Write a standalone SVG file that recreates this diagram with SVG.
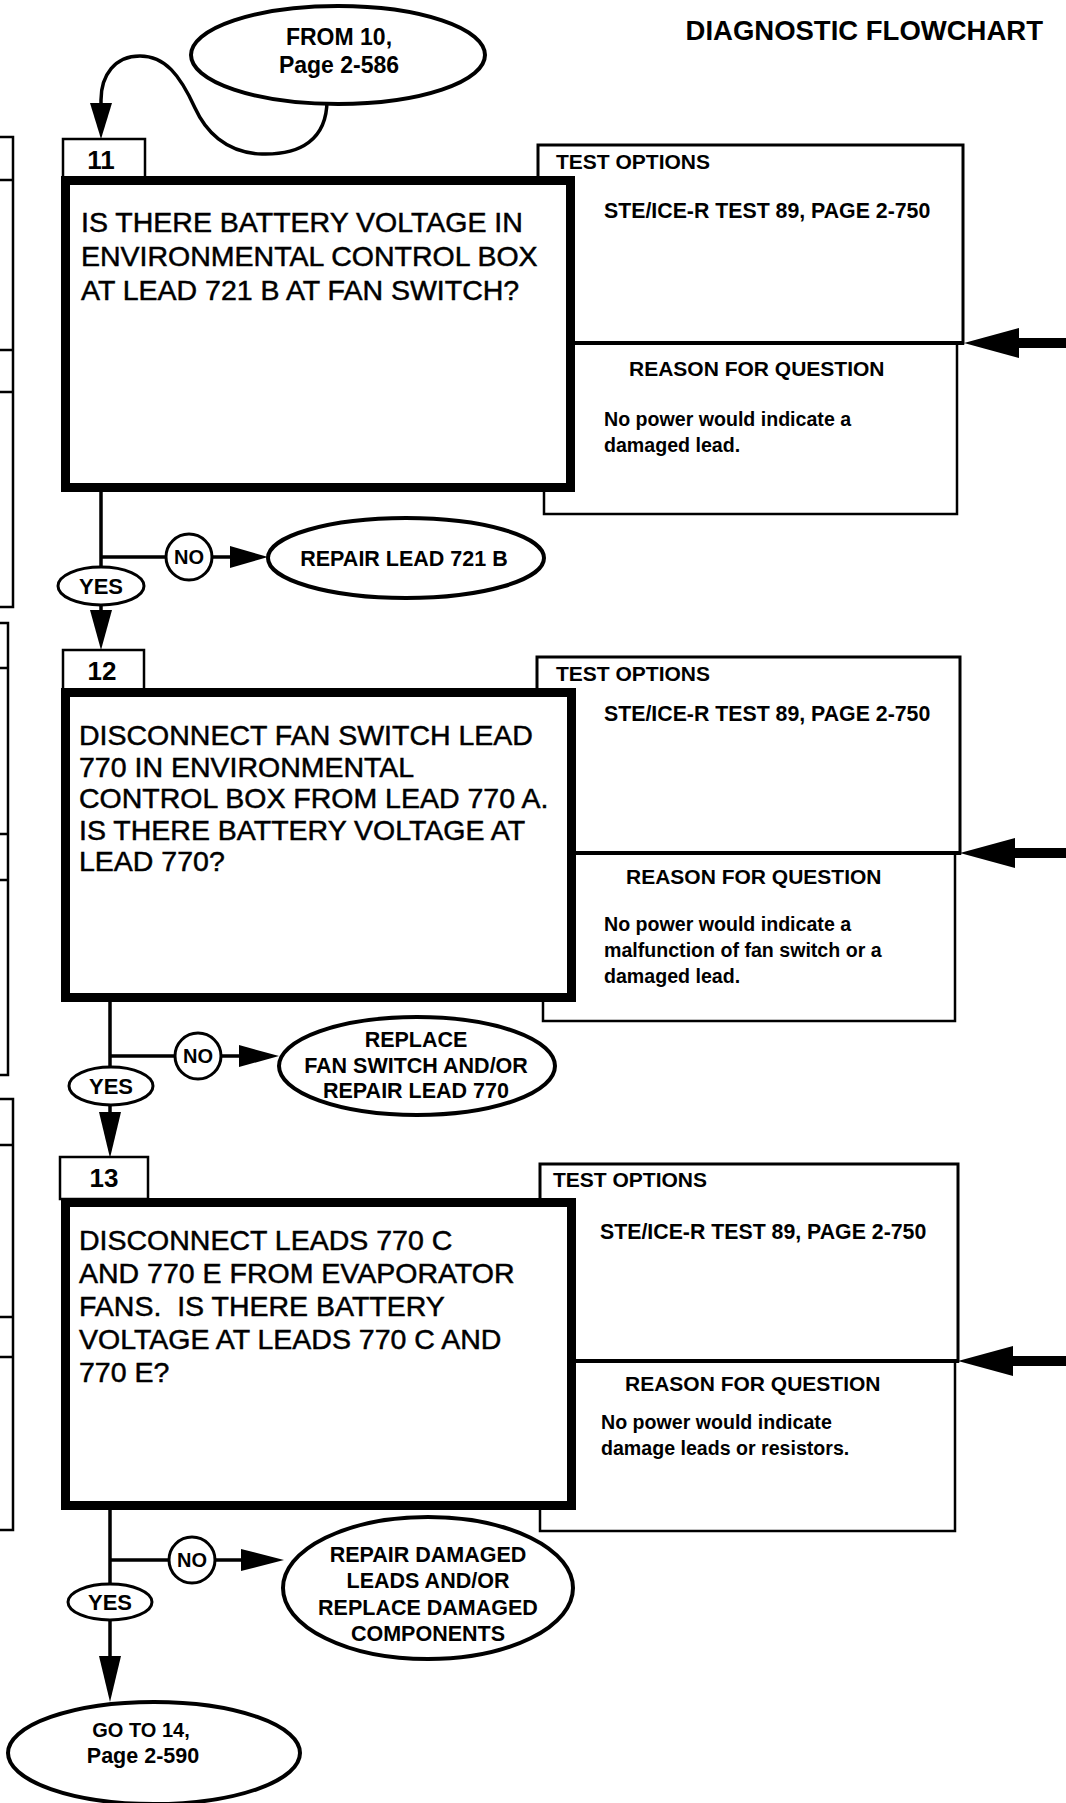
<svg xmlns="http://www.w3.org/2000/svg" width="1066" height="1803" viewBox="0 0 1066 1803">
<style>
text{font-family:"Liberation Sans",Arial,sans-serif;fill:#000}
.q{font-size:28.5px;stroke:#000;stroke-width:0.5}
.hdr{font-size:21px;font-weight:bold}
.ste{font-size:21.3px;font-weight:bold}
.rsn{font-size:19.6px;font-weight:bold}
.oval{font-size:21.5px;font-weight:bold}
.from{font-size:23px;font-weight:bold}
.lbl{font-size:20px;font-weight:bold}
.yes{font-size:22px;font-weight:bold}
.tabt{font-size:26px;font-weight:bold}
.main{fill:#fff;stroke:#000;stroke-width:9}
.tab{fill:#fff;stroke:#000;stroke-width:2.5}
.tbox{fill:#fff;stroke:#000;stroke-width:3}
.rbox{fill:#fff;stroke:#000;stroke-width:2.5}
.ell{fill:#fff;stroke:#000;stroke-width:4}
.sm{fill:#fff;stroke:#000;stroke-width:3}
.ln{fill:none;stroke:#000;stroke-width:3.5}
.thin{fill:none;stroke:#000;stroke-width:2.5}
.ah{fill:#000}
.big{fill:none;stroke:#000;stroke-width:10}
.div{stroke:#000;stroke-width:4}
</style>

<text x="1043" y="40" text-anchor="end" style="font-size:27.5px;font-weight:bold">DIAGNOSTIC FLOWCHART</text>

<g id="left-edge">
<path class="thin" d="M0 137 H13 V607 H0 M0 180 H13 M0 350 H13 M0 392 H13"/>
<path class="thin" d="M0 623 H8 V1075 H0 M0 668 H8 M0 834 H8 M0 880 H8"/>
<path class="thin" d="M0 1099 H13 V1530 H0 M0 1145 H13 M0 1317 H13 M0 1357 H13"/>
</g>

<g id="connectors">
<path class="ln" d="M327 100 C327 140 300 155 262 154 C225 153 205 130 195 108 C180 75 165 56 140 56 C115 56 101 75 101 100 L101 110"/>
<polygon class="ah" points="90,103 112,103 101,139"/>
<path class="ln" d="M101 492 V567 M101 557 H166 M212 557 H236"/>
<polygon class="ah" points="230,546 268,557 230,568"/>
<line class="ln" x1="101" y1="605" x2="101" y2="615"/>
<polygon class="ah" points="90,610 112,610 101,650"/>
<path class="ln" d="M110 1002 V1067 M110 1056 H175 M221 1056 H245"/>
<polygon class="ah" points="239,1045 279,1056 239,1067"/>
<line class="ln" x1="110" y1="1105" x2="110" y2="1115"/>
<polygon class="ah" points="99,1112 121,1112 110,1158"/>
<path class="ln" d="M110 1510 V1585 M110 1560 H169 M215 1560 H245"/>
<polygon class="ah" points="241,1549 284,1560 241,1571"/>
<line class="ln" x1="110" y1="1620" x2="110" y2="1660"/>
<polygon class="ah" points="99,1656 121,1656 110,1702"/>
<line class="big" x1="1010" y1="343" x2="1066" y2="343"/>
<polygon class="ah" points="964,343 1019,328 1019,358"/>
<line class="big" x1="1008" y1="853" x2="1066" y2="853"/>
<polygon class="ah" points="960,853 1015,838 1015,868"/>
<line class="big" x1="1006" y1="1361" x2="1066" y2="1361"/>
<polygon class="ah" points="958,1361 1013,1346 1013,1376"/>
</g>

<g id="from10">
<ellipse class="ell" cx="338" cy="55" rx="147" ry="49"/>
<text class="from" x="339" y="45" text-anchor="middle">FROM 10,</text>
<text class="from" x="339" y="73" text-anchor="middle">Page 2-586</text>
</g>

<g id="step11-options">
<rect class="tbox" x="538" y="145" width="425" height="198"/>
<rect class="rbox" x="544" y="343" width="413" height="171"/>
<line class="div" x1="570" y1="343" x2="964" y2="343"/>
<text class="hdr" x="556" y="169">TEST OPTIONS</text>
<text class="ste" x="604" y="218">STE/ICE-R TEST 89, PAGE 2-750</text>
<text class="hdr" x="629" y="376">REASON FOR QUESTION</text>
<text class="rsn" x="604" y="426">No power would indicate a</text>
<text class="rsn" x="604" y="452">damaged lead.</text>
</g>
<g id="step11">
<rect class="tab" x="63" y="139" width="82" height="42"/>
<text class="tabt" x="101" y="169" text-anchor="middle">11</text>
<rect class="main" x="65.5" y="180.5" width="505" height="307"/>
<text class="q" x="81" y="232">IS THERE BATTERY VOLTAGE IN</text>
<text class="q" x="81" y="266">ENVIRONMENTAL CONTROL BOX</text>
<text class="q" x="81" y="300">AT LEAD 721 B AT FAN SWITCH?</text>
</g>
<g id="no11">
<circle class="sm" cx="189" cy="557" r="23"/>
<text class="lbl" x="189" y="564" text-anchor="middle">NO</text>
</g>
<g id="yes11">
<ellipse class="sm" cx="101" cy="586" rx="43" ry="19"/>
<text class="yes" x="101" y="594" text-anchor="middle">YES</text>
</g>
<g id="repair721b">
<ellipse class="ell" cx="406" cy="558" rx="138" ry="40"/>
<text class="oval" x="404" y="566" text-anchor="middle">REPAIR LEAD 721 B</text>
</g>

<g id="step12-options">
<rect class="tbox" x="537" y="657" width="423" height="196"/>
<rect class="rbox" x="543" y="853" width="412" height="168"/>
<line class="div" x1="570" y1="853" x2="961" y2="853"/>
<text class="hdr" x="556" y="681">TEST OPTIONS</text>
<text class="ste" x="604" y="721">STE/ICE-R TEST 89, PAGE 2-750</text>
<text class="hdr" x="626" y="884">REASON FOR QUESTION</text>
<text class="rsn" x="604" y="931">No power would indicate a</text>
<text class="rsn" x="604" y="957">malfunction of fan switch or a</text>
<text class="rsn" x="604" y="983">damaged lead.</text>
</g>
<g id="step12">
<rect class="tab" x="63" y="650" width="81" height="42"/>
<text class="tabt" x="102" y="680" text-anchor="middle">12</text>
<rect class="main" x="65.5" y="692.5" width="506" height="305"/>
<text class="q" x="79" y="745">DISCONNECT FAN SWITCH LEAD</text>
<text class="q" x="79" y="777">770 IN ENVIRONMENTAL</text>
<text class="q" x="79" y="808">CONTROL BOX FROM LEAD 770 A.</text>
<text class="q" x="79" y="840">IS THERE BATTERY VOLTAGE AT</text>
<text class="q" x="79" y="871">LEAD 770?</text>
</g>
<g id="no12">
<circle class="sm" cx="198" cy="1056" r="23"/>
<text class="lbl" x="198" y="1063" text-anchor="middle">NO</text>
</g>
<g id="yes12">
<ellipse class="sm" cx="111" cy="1086" rx="42" ry="19"/>
<text class="yes" x="111" y="1094" text-anchor="middle">YES</text>
</g>
<g id="replace-fan-switch">
<ellipse class="ell" cx="417" cy="1066" rx="138" ry="49"/>
<text class="oval" x="416" y="1047" text-anchor="middle">REPLACE</text>
<text class="oval" x="416" y="1073" text-anchor="middle">FAN SWITCH AND/OR</text>
<text class="oval" x="416" y="1098" text-anchor="middle">REPAIR LEAD 770</text>
</g>

<g id="step13-options">
<rect class="tbox" x="540" y="1164" width="418" height="197"/>
<rect class="rbox" x="540" y="1361" width="415" height="170"/>
<line class="div" x1="570" y1="1361" x2="959" y2="1361"/>
<text class="hdr" x="553" y="1187">TEST OPTIONS</text>
<text class="ste" x="600" y="1239">STE/ICE-R TEST 89, PAGE 2-750</text>
<text class="hdr" x="625" y="1391">REASON FOR QUESTION</text>
<text class="rsn" x="601" y="1429">No power would indicate</text>
<text class="rsn" x="601" y="1455">damage leads or resistors.</text>
</g>
<g id="step13">
<rect class="tab" x="60" y="1157" width="88" height="42"/>
<text class="tabt" x="104" y="1187" text-anchor="middle">13</text>
<rect class="main" x="65.5" y="1202.5" width="506" height="303"/>
<text class="q" x="79" y="1250">DISCONNECT LEADS 770 C</text>
<text class="q" x="79" y="1283">AND 770 E FROM EVAPORATOR</text>
<text class="q" x="79" y="1316">FANS.&#160; IS THERE BATTERY</text>
<text class="q" x="79" y="1349">VOLTAGE AT LEADS 770 C AND</text>
<text class="q" x="79" y="1382">770 E?</text>
</g>
<g id="no13">
<circle class="sm" cx="192" cy="1560" r="23"/>
<text class="lbl" x="192" y="1567" text-anchor="middle">NO</text>
</g>
<g id="yes13">
<ellipse class="sm" cx="110" cy="1602" rx="42" ry="18"/>
<text class="yes" x="110" y="1610" text-anchor="middle">YES</text>
</g>
<g id="repair-damaged">
<ellipse class="ell" cx="428" cy="1588" rx="145" ry="71"/>
<text class="oval" x="428" y="1562" text-anchor="middle">REPAIR DAMAGED</text>
<text class="oval" x="428" y="1588" text-anchor="middle">LEADS AND/OR</text>
<text class="oval" x="428" y="1615" text-anchor="middle">REPLACE DAMAGED</text>
<text class="oval" x="428" y="1641" text-anchor="middle">COMPONENTS</text>
</g>
<g id="goto14">
<ellipse class="ell" cx="154" cy="1753" rx="146" ry="51"/>
<text class="oval" x="141" y="1737" text-anchor="middle" style="font-size:20px">GO TO 14,</text>
<text class="oval" x="143" y="1763" text-anchor="middle">Page 2-590</text>
</g>
</svg>
